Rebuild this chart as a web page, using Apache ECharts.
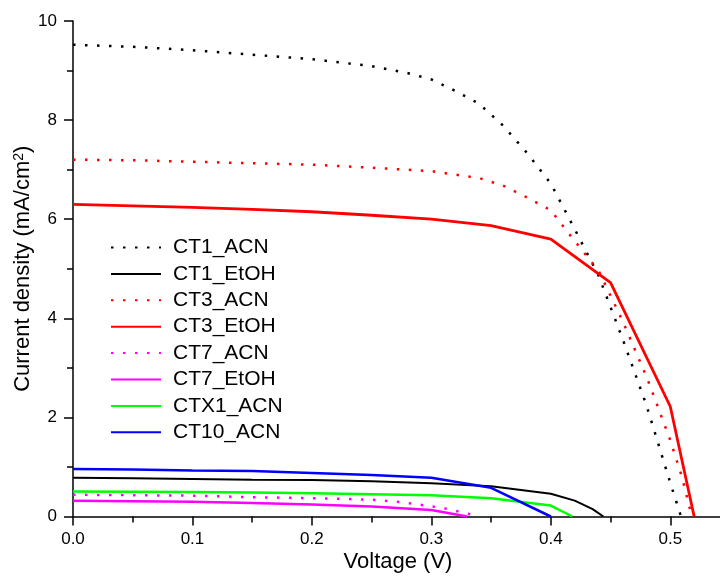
<!DOCTYPE html>
<html>
<head>
<meta charset="utf-8">
<script src="https://cdn.jsdelivr.net/npm/echarts@6/dist/echarts.min.js"></script>
<style>
html,body{margin:0;padding:0;background:#fff;}
#c{width:720px;height:576px;}
</style>
</head>
<body>
<div id="c"></div>
<script>
// Voltage (V) / current density (mA/cm2) pairs per cell
const seriesNames = ['CT1_ACN','CT1_EtOH','CT3_ACN','CT3_EtOH','CT7_ACN','CT7_EtOH','CTX1_ACN','CT10_ACN'];

const CT1_ACN_V = [0,0.05,0.1,0.15,0.2,0.25,0.28,0.3,0.32,0.34,0.36,0.38,0.4,0.42,0.44,0.46,0.48,0.5,0.509];
const CT1_ACN_J = [9.52,9.48,9.41,9.32,9.23,9.09,8.95,8.82,8.59,8.33,7.89,7.34,6.72,5.8,4.86,3.59,2.25,0.68,0];

const CT1_EtOH_V = [0,0.05,0.1,0.15,0.2,0.25,0.3,0.35,0.4,0.42,0.435,0.444];
const CT1_EtOH_J = [0.78,0.77,0.755,0.74,0.735,0.71,0.67,0.61,0.46,0.32,0.15,0];

const CT3_ACN_V = [0,0.05,0.1,0.15,0.2,0.25,0.3,0.34,0.36,0.38,0.4,0.42,0.44,0.46,0.48,0.5,0.51,0.518];
const CT3_ACN_J = [7.2,7.19,7.16,7.13,7.1,7.04,6.97,6.83,6.68,6.44,6.18,5.56,4.96,3.95,2.83,1.54,0.78,0];

const CT3_EtOH_V = [0,0.05,0.1,0.15,0.2,0.25,0.3,0.35,0.4,0.45,0.5,0.52];
const CT3_EtOH_J = [6.3,6.27,6.24,6.2,6.15,6.08,6.0,5.87,5.6,4.72,2.22,0];

const CT7_ACN_V = [0,0.05,0.1,0.15,0.2,0.25,0.27,0.29,0.31,0.33,0.34];
const CT7_ACN_J = [0.44,0.43,0.42,0.39,0.37,0.34,0.3,0.24,0.17,0.06,0];

const CT7_EtOH_V = [0,0.05,0.1,0.15,0.2,0.25,0.3,0.33];
const CT7_EtOH_J = [0.32,0.31,0.3,0.27,0.24,0.2,0.13,0];

const CTX1_ACN_V = [0,0.05,0.1,0.15,0.2,0.25,0.3,0.35,0.4,0.418];
const CTX1_ACN_J = [0.505,0.5,0.495,0.485,0.47,0.45,0.43,0.37,0.22,0];

const CT10_ACN_V = [0,0.05,0.1,0.15,0.2,0.25,0.3,0.35,0.4];
const CT10_ACN_J = [0.96,0.95,0.93,0.92,0.88,0.84,0.78,0.58,0];

const xTicks = [0,0.1,0.2,0.3,0.4,0.5];
const yTicks = [0,2,4,6,8,10];

const allV = [CT1_ACN_V,CT1_EtOH_V,CT3_ACN_V,CT3_EtOH_V,CT7_ACN_V,CT7_EtOH_V,CTX1_ACN_V,CT10_ACN_V];
const allJ = [CT1_ACN_J,CT1_EtOH_J,CT3_ACN_J,CT3_EtOH_J,CT7_ACN_J,CT7_EtOH_J,CTX1_ACN_J,CT10_ACN_J];
const colors = ['#000000','#000000','#ff0000','#ff0000','#ff00ff','#ff00ff','#00ff00','#0000ff'];
const dotted = [true,false,true,false,true,false,false,false];
const widths = [2.5,2,2.5,2.8,2.5,2.5,2.5,2.5];

const pair = (v,j) => v.map((x,i)=>[x,j[i]]);

const series = seriesNames.map((n,k)=>({
  name:n,
  type:'line',
  data:pair(allV[k],allJ[k]),
  symbol:'none',
  showSymbol:false,
  smooth:false,
  color:colors[k],
  lineStyle:{color:colors[k],width:widths[k],type: dotted[k] ? [2.5,9.5] : 'solid', cap:'butt'},
  emphasis:{disabled:true},
  animation:false
}));

const FONT = 'Liberation Sans, Arial, sans-serif';
const chart = echarts.init(document.getElementById('c'), null, {renderer:'canvas'});
chart.setOption({
  backgroundColor:'#ffffff',
  animation:false,
  grid:{left:73, right:-10, top:21, bottom:59.5, containLabel:false, outerBoundsMode:'none'},
  legend:{
    orient:'vertical',
    left:110, top:237,
    padding:0,
    itemWidth:50, itemHeight:20,
    itemGap:5.4,
    data:seriesNames,
    itemStyle:{opacity:0, color:'rgba(0,0,0,0)', borderWidth:0},
    textStyle:{fontFamily:FONT, fontSize:21, color:'#000', lineHeight:20, padding:[0,0,0,7]},
    selectedMode:false
  },
  xAxis:{
    type:'value', min:0, max:0.55, interval:0.1,
    name:'Voltage (V)', nameLocation:'middle', nameGap:34, nameMoveOverlap:false,
    nameTextStyle:{fontFamily:FONT, fontSize:22, color:'#000', lineHeight:22, padding:[0,7,0,0]},
    axisLine:{onZero:false, lineStyle:{color:'#000', width:1.5}},
    axisTick:{show:true, inside:false, length:9, lineStyle:{color:'#000', width:1.5}},
    minorTick:{show:true, splitNumber:2, length:6, lineStyle:{color:'#000', width:1.5}},
    axisLabel:{fontFamily:FONT, fontSize:17, color:'#000', margin:14,
      formatter:v=> xTicks.some(t=>Math.abs(t-v)<1e-9) ? v.toFixed(1) : ''},
    splitLine:{show:false}
  },
  yAxis:{
    type:'value', min:0, max:10, interval:2,
    name:'{a|Current density (mA/cm}{s|2}{a|)}', nameLocation:'middle', nameGap:39, nameRotate:90,
    nameMoveOverlap:false,
    nameTextStyle:{fontFamily:FONT, fontSize:22, color:'#000',
      rich:{
        a:{fontFamily:FONT, fontSize:22, color:'#000', lineHeight:22},
        s:{fontFamily:FONT, fontSize:14, color:'#000', lineHeight:14, verticalAlign:'top'}
      }},
    axisLine:{show:true, onZero:false, lineStyle:{color:'#000', width:1.5}},
    axisTick:{show:true, inside:false, length:9, lineStyle:{color:'#000', width:1.5}},
    minorTick:{show:true, splitNumber:2, length:6, lineStyle:{color:'#000', width:1.5}},
    axisLabel:{fontFamily:FONT, fontSize:17, color:'#000', margin:16,
      formatter:v=> yTicks.includes(v) ? String(v) : ''},
    splitLine:{show:false}
  },
  series:series
});
</script>
</body>
</html>
